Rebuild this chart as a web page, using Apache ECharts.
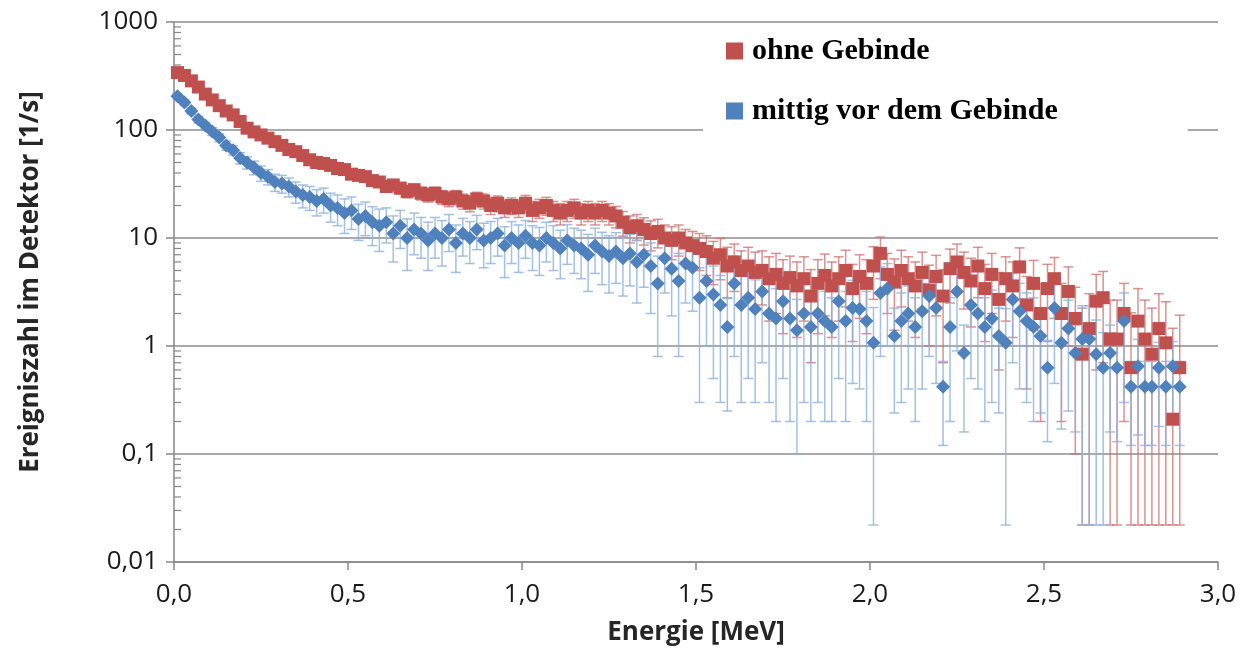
<!DOCTYPE html>
<html>
<head>
<meta charset="utf-8">
<script src="https://cdn.jsdelivr.net/npm/echarts@6/dist/echarts.min.js"></script>
<style>
html,body{margin:0;padding:0;background:#fff;}
#chart{width:1244px;height:661px;}
</style>
</head>
<body>
<div id="chart"></div>
<script>
// ---- data ----
const SERIES_NAMES = ['ohne Gebinde', 'mittig vor dem Gebinde'];
const ENERGY = [
0.01,0.03,0.05,0.07,0.09,0.11,0.13,0.15,0.17,0.19,
0.21,0.23,0.25,0.27,0.29,0.31,0.33,0.35,0.37,0.39,
0.41,0.43,0.45,0.47,0.49,0.51,0.53,0.55,0.57,0.59,
0.61,0.63,0.65,0.67,0.69,0.71,0.73,0.75,0.77,0.79,
0.81,0.83,0.85,0.87,0.89,0.91,0.93,0.95,0.97,0.99,
1.01,1.03,1.05,1.07,1.09,1.11,1.13,1.15,1.17,1.19,
1.21,1.23,1.25,1.27,1.29,1.31,1.33,1.35,1.37,1.39,
1.41,1.43,1.45,1.47,1.49,1.51,1.53,1.55,1.57,1.59,
1.61,1.63,1.65,1.67,1.69,1.71,1.73,1.75,1.77,1.79,
1.81,1.83,1.85,1.87,1.89,1.91,1.93,1.95,1.97,1.99,
2.01,2.03,2.05,2.07,2.09,2.11,2.13,2.15,2.17,2.19,
2.21,2.23,2.25,2.27,2.29,2.31,2.33,2.35,2.37,2.39,
2.41,2.43,2.45,2.47,2.49,2.51,2.53,2.55,2.57,2.59,
2.61,2.63,2.65,2.67,2.69,2.71,2.73,2.75,2.77,2.79,
2.81,2.83,2.85,2.87,2.89
];
const RED = [
340,320,285,250,215,190,168,150,138,120,
104,96,90,84,78,72,66,63,58,53,
50,49,47,44,43,39,38,37,34,33,
30,31,29,27,28,26,25,26,24,23,
24,22,21,23,22,20,21,19,20,19,
21,18,19,20,18,17,18,19,17,18,
17,18,17,16,14,12.5,13,12,11,11.5,
10,9.5,10,9,8.5,8,7.5,6.5,7,5.5,
6,5,5.5,4.8,5,4.2,4.6,3.8,4.3,3.6,
4.2,2.9,3.8,4.5,3.6,4.2,5,3.4,4.4,3.8,
5.5,7.2,4.6,3.9,5,4.2,3.6,4.8,3.3,4.4,
2.9,5.2,6,4.8,4,5.5,3.4,4.6,2.7,4.2,
3.6,5.4,2.4,3.8,2.0,3.4,4.2,2.0,3.2,1.8,
0.84,1.45,2.6,2.8,1.16,1.16,2.0,0.63,1.7,1.16,
0.84,1.45,1.07,0.21,0.63
];
const RED_ERR = [
8,8,7,7,6,6,6,5,5,5,
5,5,5,4.5,4.5,4.5,4.5,4,4,4,
4,4,4,4,4,3.5,3.5,3.5,3.5,3.5,
3.5,3.5,3.5,3.5,3.5,3.5,3.5,3.5,3.5,3.5,
3.5,3.5,3.5,3.5,3.5,3.5,3.5,3.5,3.5,3.5,
3.8,3.8,3.8,3.8,3.8,3.8,3.8,3.8,3.8,3.8,
3.8,3.8,3.8,3.6,3.6,3.5,3.5,3.4,3.4,3.4,
3.2,3.2,3.2,3,3,3,3,2.8,2.9,2.7,
2.8,2.6,2.7,2.6,2.6,2.5,2.6,2.5,2.5,2.4,
2.5,2.2,2.5,2.6,2.4,2.5,2.7,2.3,2.6,2.5,
2.8,3,2.6,2.5,2.7,2.5,2.4,2.6,2.3,2.5,
2.2,2.7,2.8,2.6,2.5,2.7,2.3,2.6,2.1,2.5,
2.4,2.7,2.0,2.4,1.8,2.3,2.4,1.8,2.2,1.7,
1.4,1.6,2.0,2.1,1.5,1.5,1.8,1.4,1.7,1.5,
1.4,1.6,1.5,1.25,1.3
];
const BLUE = [
205,180,150,125,110,97,85,72,65,55,
50,45,40,37,33,32,30,27,25,24,
22,23,20,19,17,18,15,16,14,13,
14,11,13,10,12,11,9.5,11,10,12,
9,11,10,12,9.5,10,11,8.5,10,9,
10.5,9,8.5,10,9,8,9.5,8.5,8,7,
8.5,7.5,6.8,7.5,6.5,7.2,6,7,5.5,3.8,
6.5,5.2,4,5.8,5.3,2.8,4.0,3.0,2.4,1.5,
3.8,2.4,2.8,2.2,3.2,2.0,1.8,2.6,1.8,1.4,
2.0,1.5,2.0,1.7,1.5,2.6,1.7,2.25,2.2,1.7,
1.07,3.1,3.4,1.24,1.7,2.0,1.5,2.1,2.9,2.25,
0.42,1.5,3.2,0.86,2.4,2.0,1.5,1.8,1.24,1.07,
2.7,2.1,1.7,1.5,1.24,0.63,2.25,1.07,1.45,0.86,
1.16,1.16,0.84,0.63,0.86,0.63,1.7,0.42,0.65,0.42,
0.42,0.63,0.42,0.65,0.42
];
const BLUE_ERR = [
12,11,10,9,8,8,7,7,6.5,6.5,
6.5,6.5,6.5,6,6,6,6,6,6,6,
6,6,6,6,6,6,5.5,5.5,5.5,5.5,
5,5,5,5,5,4.5,4.5,4.5,4.5,4.5,
4.2,4.2,4.2,4.2,4.2,4.2,4.2,4.2,4.2,4.2,
4,4,4,4,4,3.8,3.8,3.8,3.8,3.8,
3.8,3.8,3.7,3.7,3.6,3.6,3.5,3.5,3.5,3.0,
3.4,3.3,3.2,3.3,3.2,2.5,3.0,2.5,2.1,1.25,
3.0,2.1,2.3,1.9,2.5,1.7,1.6,2.1,1.6,1.3,
1.7,1.3,1.7,1.5,1.3,2.1,1.5,1.8,1.8,1.5,
1.2,2.3,2.4,1.0,1.4,1.6,1.3,1.7,2.1,1.8,
0.3,1.3,2.3,0.7,1.9,1.6,1.3,1.5,1.0,1.15,
2.0,1.7,1.4,1.3,1.0,0.5,1.8,0.9,1.2,0.7,
1.2,1.2,0.9,0.7,0.7,0.5,1.4,0.3,0.5,0.3,
0.3,0.45,0.3,0.45,0.3
];
const Y_MIN = 0.01, Y_MAX = 1000;
const X_MIN = 0, X_MAX = 3, X_STEP = 0.5;
const LOWER_CLAMP = 0.022;
const MINOR_DECADES = [0.01, 0.1, 1, 10, 100];
const MINOR_FACTORS = [2,3,4,5,6,7,8,9];

// ---- build ----
function withErr(vals, errs) {
  return ENERGY.map((e, i) => {
    const v = vals[i], d = errs[i];
    const lo = v - d > LOWER_CLAMP ? v - d : LOWER_CLAMP;
    return [e, v, lo, v + d];
  });
}
const redData = withErr(RED, RED_ERR);
const blueData = withErr(BLUE, BLUE_ERR);
const minorTicks = [];
MINOR_DECADES.forEach(d => MINOR_FACTORS.forEach(f => minorTicks.push([X_MIN, +(d * f).toPrecision(3)])));

function errRender(color) {
  return function (params, api) {
    const x = api.value(0), lo = api.value(2), hi = api.value(3);
    const t = api.coord([x, hi]);
    const b = api.coord([x, lo]);
    const hw = 5;
    const st = { stroke: color, lineWidth: 1.5 };
    return {
      type: 'group',
      children: [
        { type: 'line', shape: { x1: t[0], y1: t[1], x2: b[0], y2: b[1] }, style: st },
        { type: 'line', shape: { x1: t[0] - hw, y1: t[1], x2: t[0] + hw, y2: t[1] }, style: st },
        { type: 'line', shape: { x1: b[0] - hw, y1: b[1], x2: b[0] + hw, y2: b[1] }, style: st }
      ]
    };
  };
}

const fmt = s => String(s).replace('.', ',');
const chart = echarts.init(document.getElementById('chart'), null, { renderer: 'canvas' });
const axisGray = '#868686';
const legendText = { fontFamily: 'Liberation Serif', fontWeight: 'bold', fontSize: 30, lineHeight: 30, color: '#000', padding: [0, 0, 0, 4] };
const option = {
  animation: false,
  backgroundColor: '#ffffff',
  grid: { left: 174, right: 26, top: 22, bottom: 99 },
  legend: [
    {
      data: [{ name: SERIES_NAMES[0], icon: 'rect', itemStyle: { color: '#C0504D' } }],
      left: 703, top: 26, padding: [10, 20, 10, 23],
      backgroundColor: '#ffffff',
      itemWidth: 17, itemHeight: 17,
      selectedMode: false,
      textStyle: legendText
    },
    {
      data: [{ name: SERIES_NAMES[1], icon: 'rect', itemStyle: { color: '#4F81BD' } }],
      left: 703, top: 86, padding: [10, 130, 10, 23],
      backgroundColor: '#ffffff',
      itemWidth: 17, itemHeight: 17,
      selectedMode: false,
      textStyle: legendText
    }
  ],
  xAxis: {
    type: 'value', min: X_MIN, max: X_MAX, interval: X_STEP,
    name: 'Energie [MeV]', nameLocation: 'middle', nameGap: 58,
    nameTextStyle: { fontFamily: 'Open Sans', fontWeight: 'bold', fontSize: 26, color: '#262626' },
    axisLine: { lineStyle: { color: axisGray, width: 1.5 } },
    axisTick: { length: 8, lineStyle: { color: axisGray, width: 1.5 } },
    axisLabel: { formatter: v => fmt(v.toFixed(1)), fontFamily: 'Open Sans', fontSize: 26, color: '#1a1a1a', margin: 20 },
    splitLine: { show: false }
  },
  yAxis: {
    type: 'log', logBase: 10, min: Y_MIN, max: Y_MAX,
    name: 'Ereigniszahl im Detektor [1/s]', nameLocation: 'middle', nameGap: 130,
    nameTextStyle: { fontFamily: 'Open Sans', fontWeight: 'bold', fontSize: 26, color: '#262626', padding: [0, 0, 0, 20] },
    axisLine: { show: true, lineStyle: { color: axisGray, width: 1.5 } },
    axisTick: { show: true, length: 8, lineStyle: { color: axisGray, width: 1.5 } },
    axisLabel: { formatter: v => fmt(+v.toPrecision(3)), fontFamily: 'Open Sans', fontSize: 26, color: '#1a1a1a', margin: 16 },
    splitLine: { show: true, lineStyle: { color: '#8c8c8c', width: 1.5 } }
  },
  series: [
    {
      type: 'custom', name: 'minor', silent: true, data: minorTicks,
      encode: { x: 0, y: 1 },
      renderItem: function (params, api) {
        const p = api.coord([api.value(0), api.value(1)]);
        return { type: 'line', shape: { x1: p[0], y1: p[1], x2: p[0] + 7, y2: p[1] }, style: { stroke: axisGray, lineWidth: 1.2 } };
      }
    },
    {
      type: 'custom', name: 'errRed', silent: true, data: redData,
      encode: { x: 0, y: [1, 2, 3] },
      renderItem: errRender('rgba(205,110,108,0.75)')
    },
    {
      type: 'scatter', name: SERIES_NAMES[0], data: redData.map(d => [d[0], d[1]]),
      symbol: 'rect', symbolSize: 13,
      itemStyle: { color: '#C0504D', opacity: 1 }
    },
    {
      type: 'custom', name: 'errBlue', silent: true, data: blueData,
      encode: { x: 0, y: [1, 2, 3] },
      renderItem: errRender('rgba(140,176,222,0.8)')
    },
    {
      type: 'scatter', name: SERIES_NAMES[1], data: blueData.map(d => [d[0], d[1]]),
      symbol: 'path://M0,-1 L1,0 L0,1 L-1,0 Z', symbolSize: 14,
      itemStyle: { color: '#4F81BD', opacity: 1 }
    }
  ]
};
chart.setOption(option);
</script>
</body>
</html>
